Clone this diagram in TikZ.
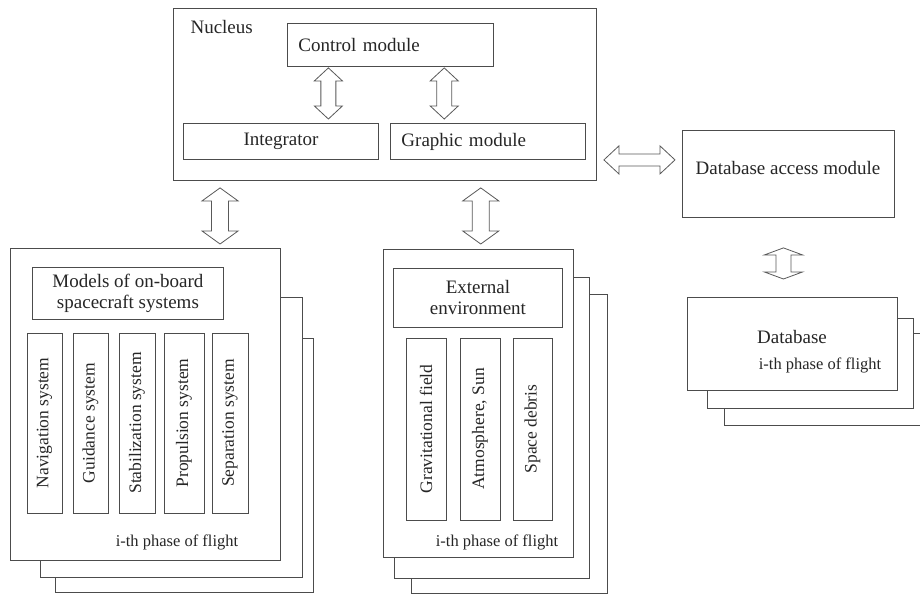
\documentclass[tikz,border=0pt]{standalone}
\usepackage{fontspec}
\setmainfont{Liberation Serif}
\usetikzlibrary{calc, positioning}

\tikzset{
    box/.style={draw=black!70, line width=0.9pt, fill=white, inner sep=0pt},
    lbl/.style={font=\fontsize{19}{21}\selectfont, text=black!85, align=center},
    vlbl/.style={font=\fontsize{17.5}{20}\selectfont, text=black!85},
    phase/.style={font=\fontsize{16.5}{19}\selectfont, text=black!85},
    blockarrow/.style={draw=black!65, line width=0.8pt, fill=white},
    vdbl/.style args={#1/#2/#3}{blockarrow, to path={let \p1=(\tikztostart), \p2=(\tikztotarget) in
        (\x1,\y1) -- (\x1+#1,\y1-#3) -- (\x1+#2,\y1-#3) -- (\x1+#2,\y2+#3) -- (\x1+#1,\y2+#3)
        -- (\x1,\y2) -- (\x1-#1,\y2+#3) -- (\x1-#2,\y2+#3) -- (\x1-#2,\y1-#3) -- (\x1-#1,\y1-#3) -- cycle}},
    hdbl/.style args={#1/#2/#3}{blockarrow, to path={let \p1=(\tikztostart), \p2=(\tikztotarget) in
        (\x1,\y1) -- (\x1+#3,\y1+#1) -- (\x1+#3,\y1+#2) -- (\x2-#3,\y1+#2) -- (\x2-#3,\y1+#1)
        -- (\x2,\y1) -- (\x2-#3,\y1-#1) -- (\x2-#3,\y1-#2) -- (\x1+#3,\y1-#2) -- (\x1+#3,\y1-#1) -- cycle}},
}

\begin{document}
\begin{tikzpicture}[x=1pt, y=-1pt]
    \clip (0,0) rectangle (920,594);

    % Nucleus
    \node[box, anchor=north west, minimum width=423pt, minimum height=172pt] (nuc) at (173,8) {};
    \node[lbl, anchor=west] (nuclbl) at (187,27) {Nucleus};
    \node[box, lbl, anchor=north west, minimum width=206pt, minimum height=43pt, text width=184pt, align=left] (ctrl) at (287,23) {Control module};
    \node[box, lbl, anchor=north west, minimum width=195pt, minimum height=36pt] (integ) at (183,123) {Integrator};
    \node[box, lbl, anchor=north west, minimum width=195pt, minimum height=36pt, text width=173pt, align=left] (graph) at (390,123) {Graphic module};

    % Arrows inside nucleus
    \draw[vdbl=14pt/7.5pt/13pt] ($(ctrl.south west)!0.2!(ctrl.south east)+(0,1)$) to ($(integ.north west)!0.74!(integ.north east)+(0,-4)$);
    \draw[vdbl=14pt/7.5pt/13pt] ($(ctrl.south west)!0.76!(ctrl.south east)+(0,1)$) to ($(graph.north west)!0.27!(graph.north east)+(0,-4)$);

    % Database access module
    \node[box, anchor=north west, minimum width=212pt, minimum height=87pt] (dam) at (682,130) {};
    \node[lbl] (damlbl) at (788,168) {Database access module};
    \draw[hdbl=14pt/6pt/15pt] ($(nuc.south east)+(7,-21)$) to ($(dam.west)+(-7,0)$);

    % Database, i-th phase of flight
    \draw[box] (724,333) rectangle (935,425);
    \draw[box] (707,318) rectangle (913,408);
    \node[box, anchor=north west, minimum width=210pt, minimum height=93pt] (db) at (687,297) {};
    \node[lbl] (dblbl) at (792,337) {Database};
    \node[phase] (dbph) at (820,365) {i-th phase of flight};
    \draw[vdbl=19pt/7.5pt/7pt] ($(dam.south)+(-5,30)$) to ($(db.north)+(-9,-18)$);

    % Models of on-board spacecraft systems
    \draw[box] (55,338) rectangle (313,592);
    \draw[box] (40,297) rectangle (302,577);
    \node[box, anchor=north west, minimum width=270pt, minimum height=312pt] (mfront) at (10,248) {};
    \node[box, lbl, anchor=north west, minimum width=191pt, minimum height=52pt] (models) at (32,267) {Models of on-board\\spacecraft systems};
    \foreach \x/\w/\t [count=\i] in {27/35/Navigation system, 73/35/Guidance system,
            119/36/Stabilization system, 164/40/Propulsion system, 212/36/Separation system} {
        \node[box, vlbl, rotate=90, minimum width=180pt, minimum height=\w pt] (sys\i) at ({\x+\w/2},423) {\t};
    }
    \node[phase] (mph) at (177,542) {i-th phase of flight};
    \draw[vdbl=18pt/8.5pt/13pt] ($(nuc.south west)!0.111!(nuc.south east)+(0,7)$) to ($(mfront.north west)!0.778!(mfront.north east)+(0,-4)$);

    % External environment
    \draw[box] (411,294) rectangle (607,593);
    \draw[box] (394,277) rectangle (589,578);
    \node[box, anchor=north west, minimum width=190pt, minimum height=308pt] (efront) at (383,249) {};
    \node[box, lbl, anchor=north west, minimum width=169pt, minimum height=59pt] (env) at (393,268) {External\\environment};
    \foreach \x/\w/\t [count=\i] in {406/40/Gravitational field, 460/40/{Atmosphere, Sun}, 513/39/Space debris} {
        \node[box, vlbl, rotate=90, minimum width=182pt, minimum height=\w pt] (ext\i) at ({\x+\w/2},429) {\t};
    }
    \node[phase] (eph) at (497,542) {i-th phase of flight};
    \draw[vdbl=18pt/8.5pt/13pt] ($(nuc.south west)!0.726!(nuc.south east)+(0,7)$) to ($(efront.north)+(0,-5)$);
\end{tikzpicture}
\end{document}
